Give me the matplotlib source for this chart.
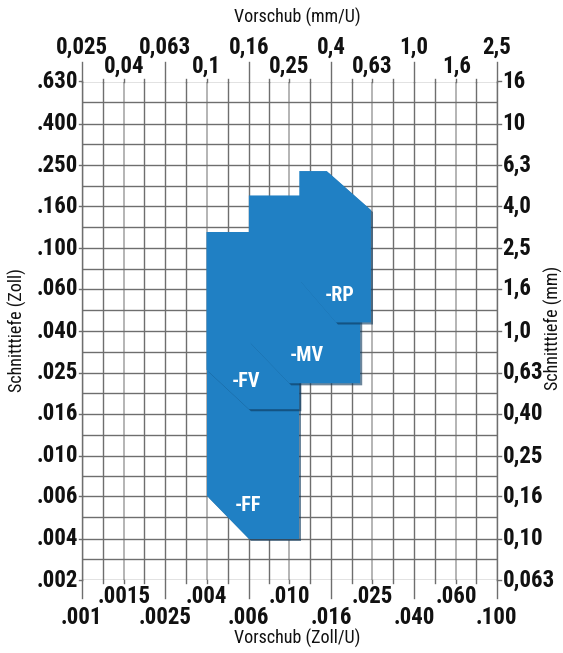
import numpy as np
import matplotlib
matplotlib.use('Agg')
import matplotlib.pyplot as plt
import matplotlib.patheffects as pe
from matplotlib import font_manager
from matplotlib.patches import Polygon

# narrowest sans available
installed = {f.name for f in font_manager.fontManager.ttflist}
narrow = [n for n in ['Roboto Condensed', 'Liberation Sans Narrow', 'DejaVu Sans Condensed',
                      'Liberation Sans', 'Roboto'] if n in installed]
plt.rcParams['font.family'] = narrow[:1] + ['DejaVu Sans']

# axis scales in mm (R5 steps), labels as printed
x_mm = [0.025, 0.04, 0.063, 0.1, 0.16, 0.25, 0.4, 0.63, 1.0, 1.6, 2.5]
x_mm_labels = ['0,025', '0,04', '0,063', '0,1', '0,16', '0,25', '0,4', '0,63', '1,0', '1,6', '2,5']
x_in_labels = ['.001', '.0015', '.0025', '.004', '.006', '.010', '.016', '.025', '.040', '.060', '.100']

y_mm = [0.063, 0.1, 0.16, 0.25, 0.4, 0.63, 1.0, 1.6, 2.5, 4.0, 6.3, 10, 16]
y_mm_labels = ['0,063', '0,10', '0,16', '0,25', '0,40', '0,63', '1,0', '1,6', '2,5', '4,0', '6,3', '10', '16']
y_in_labels = ['.002', '.004', '.006', '.010', '.016', '.025', '.040', '.060', '.100', '.160', '.250', '.400', '.630']

# application areas: (feed mm/U, depth of cut mm)
ff_f = [0.16, 0.28, 0.28, 0.10, 0.10]
ff_d = [0.10, 0.10, 0.65, 0.65, 0.16]
fv_f = [0.10, 0.16, 0.28, 0.28, 0.10]
fv_d = [0.65, 0.42, 0.42, 3.0, 3.0]
mv_f = [0.16, 0.25, 0.55, 0.55, 0.45, 0.16]
mv_d = [0.89, 0.56, 0.56, 3.5, 4.5, 4.5]
rp_f = [0.28, 0.42, 0.62, 0.62, 0.38, 0.28]
rp_d = [1.76, 1.10, 1.10, 3.83, 5.9, 5.9]

areas = [('-FF', ff_f, ff_d, (0.158, 0.144)),
         ('-FV', fv_f, fv_d, (0.155, 0.574)),
         ('-MV', mv_f, mv_d, (0.305, 0.766)),
         ('-RP', rp_f, rp_d, (0.44, 1.475))]

fig = plt.figure(figsize=(5.63, 6.53), dpi=100)
ax = fig.add_axes([82/563, 1 - 580/653, 415/563, 498/653])
ax.set_xscale('log')
ax.set_yscale('log')
ax.set_xlim(10**-1.6, 10**0.4)
ax.set_ylim(10**-1.2, 10**1.2)
ax.minorticks_off()
ax.set_xticks([])
ax.set_yticks([])

# grid: every label plus the half steps in between
xs = np.array(x_mm)
ys = np.array(y_mm)
x_half = np.sqrt(xs[:-1] * xs[1:])
y_half = np.sqrt(ys[:-1] * ys[1:])
for i, x in enumerate(xs):
    if i % 2:
        ax.axvline(x, color='#b4b4b4', lw=1.4, zorder=0)
    else:
        ax.axvline(x, color='#6e6e6e', lw=1.0, zorder=0)
for x in x_half:
    ax.axvline(x, color='#6e6e6e', lw=1.0, zorder=0)
for y in list(ys) + list(y_half):
    ax.axhline(y, color='#6e6e6e', lw=1.0, zorder=0)

for s in ['top', 'bottom']:
    ax.spines[s].set_visible(False)
for s in ['left', 'right']:
    ax.spines[s].set_color('#6e6e6e')
    ax.spines[s].set_linewidth(1.0)

xt = ax.get_xaxis_transform()
yt = ax.get_yaxis_transform()

# tick marks outside the frame
for i, x in enumerate(xs):
    top_len = 0.04 if i % 2 == 0 else 0.007
    bot_len = 0.036 if i % 2 == 0 else 0.007
    ax.plot([x, x], [1, 1 + top_len], transform=xt, color='#6e6e6e', lw=1.0, clip_on=False)
    ax.plot([x, x], [0, -bot_len], transform=xt, color='#6e6e6e', lw=1.0, clip_on=False)
for x in x_half:
    ax.plot([x, x], [1, 1.007], transform=xt, color='#6e6e6e', lw=1.0, clip_on=False)
    ax.plot([x, x], [0, -0.007], transform=xt, color='#6e6e6e', lw=1.0, clip_on=False)
for y in ys:
    ax.plot([-0.008, 0], [y, y], transform=yt, color='#6e6e6e', lw=1.0, clip_on=False)
    ax.plot([1, 1.01], [y, y], transform=yt, color='#6e6e6e', lw=1.0, clip_on=False)

# tick labels, two staggered rows top and bottom
lab = dict(fontsize=16.5, fontweight='bold', color='#111111')
for i, x in enumerate(xs):
    if i % 2 == 0:
        ax.text(x, 1.070, x_mm_labels[i], transform=xt, ha='center', va='center', **lab)
        ax.text(x, -0.0745, x_in_labels[i], transform=xt, ha='center', va='center', **lab)
    else:
        ax.text(x, 1.032, x_mm_labels[i], transform=xt, ha='center', va='center', **lab)
        ax.text(x, -0.034, x_in_labels[i], transform=xt, ha='center', va='center', **lab)
for i, y in enumerate(ys):
    ax.text(-0.010, y, y_in_labels[i], transform=yt, ha='right', va='center', **lab)
    ax.text(1.013, y, y_mm_labels[i], transform=yt, ha='left', va='center', **lab)

# application areas
shadow = [pe.SimplePatchShadow(offset=(1.5, -1.5), shadow_rgbFace='#0b3558', alpha=0.6), pe.Normal()]
for name, f, d, pos in areas:
    poly = Polygon(np.column_stack([f, d]), closed=True, facecolor='#2080c4',
                   edgecolor='none', zorder=3)
    poly.set_path_effects(shadow)
    ax.add_patch(poly)
    ax.text(pos[0], pos[1], name, ha='center', va='center', color='white',
            fontsize=14.5, fontweight='bold', zorder=5)

title = dict(fontsize=13, color='#111111')
fig.text(297/563, 1 - 17/653, 'Vorschub (mm/U)', ha='center', va='center', **title)
fig.text(297/563, 1 - 638/653, 'Vorschub (Zoll/U)', ha='center', va='center', **title)
fig.text(17/563, 1 - 330/653, 'Schnitttiefe (Zoll)', ha='center', va='center', rotation=90, **title)
fig.text(553/563, 1 - 328/653, 'Schnitttiefe (mm)', ha='center', va='center', rotation=90, **title)

fig.savefig('out.png', dpi=100)
